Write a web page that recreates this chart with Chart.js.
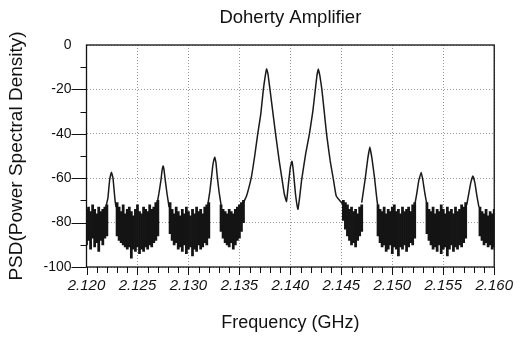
<!DOCTYPE html>
<html>
<head>
<meta charset="utf-8">
<script src="https://cdn.jsdelivr.net/npm/chart.js@4.4.0/dist/chart.umd.min.js"></script>
<style>
  body { margin: 0; background: #fff; }
  canvas { display: block; }
</style>
</head>
<body>
<canvas id="psd-chart" width="523" height="337"></canvas>
<script>
// axis ticks
const xTicks = [2.120, 2.125, 2.130, 2.135, 2.140, 2.145, 2.150, 2.155, 2.160];
const xTickLabels = ['2.120', '2.125', '2.130', '2.135', '2.140', '2.145', '2.150', '2.155', '2.160'];
const yTicks = [0, -20, -40, -60, -80, -100];

// tone / intermod peaks (GHz, dB), null breaks the trace
const peakFreq = [
  2.1219, 2.1221, 2.1222, 2.1223, 2.12245, 2.1226, 2.1227, 2.1228, 2.1229, 2.1230,
  2.1269, 2.1271, 2.1273, 2.1274, 2.12752, 2.1276, 2.1277, 2.1279, 2.1281, 2.1282,
  2.1319, 2.1321, 2.1323, 2.1324, 2.13258, 2.1327, 2.1328, 2.1330, 2.1332, 2.1333,
  2.1354, 2.1357, 2.1360, 2.1362, 2.1365, 2.1368, 2.1371, 2.13735, 2.1375, 2.13767,
  2.1378, 2.1380, 2.1383, 2.13855, 2.1389, 2.1392, 2.1394, 2.13962, 2.1398, 2.1400,
  2.14016, 2.1403, 2.1405, 2.14074, 2.1409, 2.1411, 2.1415, 2.14187, 2.1422, 2.14245,
  2.1426, 2.14274, 2.1429, 2.14309, 2.1433, 2.14355, 2.1439, 2.1442, 2.1445, 2.1452, 2.1453,
  2.1470, 2.14735, 2.1476, 2.1478, 2.1480, 2.14826, 2.1485, 2.1486, 2.1487,
  2.1522, 2.1524, 2.1526, 2.15284, 2.1530, 2.1532, 2.1534, 2.1535,
  2.1573, 2.1575, 2.1577, 2.1579, 2.1581, 2.1583, 2.1585
];
const peakPsd = [
  -73, -69, -64, -60, -57.3, -60, -65, -70, -73, null,
  -72, -67, -61, -57, -54.5, -56, -60, -67, -73, null,
  -72, -66, -58, -54, -50.6, -53, -58, -66, -72, null,
  -71, -68, -63, -59, -50, -40, -31, -20, -15, -10.8,
  -13, -20, -31, -40, -52, -61, -67, -70.5, -63, -55,
  -52.4, -57, -67, -74, -69, -61, -49, -40, -30, -20,
  -14, -10.8, -14, -20, -29, -40, -52, -60, -68, -72, null,
  -71, -60, -51, -46, -51, -60, -70, -73, null,
  -72, -67, -61, -57.4, -61, -67, -72, null,
  -72, -67, -62, -59, -62, -68, -73
];

// noise floor, min/max per 0.0002 GHz bin, one row per stretch between peaks
const noiseStart = [2.1200, 2.1230, 2.1282, 2.1332, 2.1452, 2.1486, 2.1534, 2.1586];
const noiseHigh = [
  [-74, -73, -75, -72, -74, -76, -73, -75, -74, -73, -72],
  [-71, -73, -75, -72, -76, -74, -73, -75, -77, -74, -72, -75, -76, -73, -74, -75, -72, -74, -73, -71, -70],
  [-71, -74, -76, -73, -75, -77, -74, -76, -73, -75, -77, -74, -76, -73, -75, -74, -76, -73, -72, -71],
  [-72, -74, -75, -76, -74, -75, -76, -74, -73, -72, -71, -70],
  [-70, -71, -72, -74, -73, -75, -74, -76, -73, -72],
  [-72, -74, -75, -73, -76, -74, -75, -73, -72, -75, -74, -76, -73, -75, -74, -73, -75, -72, -71],
  [-71, -74, -75, -73, -76, -74, -75, -72, -74, -76, -73, -75, -74, -76, -73, -75, -74, -72, -73, -71],
  [-73, -75, -76, -74, -77, -75, -76, -74]
];
const noiseLow = [
  [-90, -88, -92, -87, -91, -89, -93, -88, -90, -87, -86],
  [-86, -88, -89, -90, -91, -92, -91, -96, -92, -93, -91, -94, -92, -93, -91, -92, -90, -91, -89, -88, -86],
  [-85, -88, -90, -89, -92, -91, -93, -90, -94, -92, -91, -95, -92, -93, -90, -92, -91, -89, -90, -87],
  [-84, -87, -89, -90, -91, -89, -92, -90, -88, -87, -84, -80],
  [-79, -83, -86, -88, -90, -89, -91, -88, -86, -84],
  [-86, -89, -91, -90, -93, -92, -90, -94, -91, -92, -95, -91, -92, -90, -93, -91, -89, -90, -87],
  [-85, -88, -90, -92, -91, -93, -90, -94, -92, -91, -95, -92, -90, -93, -91, -92, -90, -91, -89, -87],
  [-86, -88, -90, -89, -91, -90, -92, -91]
];
const binWidth = 0.0002;

const noiseBars = [];
noiseStart.forEach((f0, s) => {
  noiseHigh[s].forEach((hi, i) => {
    noiseBars.push({ x: f0 + i * binWidth, y: [noiseLow[s][i], hi] });
  });
});
const peakPoints = peakFreq.map((f, i) => ({ x: f, y: peakPsd[i] }));

// minor ticks + frame, ticks point outward like the original plot
const tickMarks = {
  id: 'tickMarks',
  afterDraw(chart) {
    const { ctx, chartArea: a, scales: { x, y } } = chart;
    ctx.save();
    ctx.strokeStyle = '#111';
    ctx.lineWidth = 1;
    ctx.beginPath();
    for (let i = 0; i <= 40; i++) {
      const px = Math.round(x.getPixelForValue(2.12 + i * 0.001)) + 0.5;
      const len = i % 5 === 0 ? 8 : 6;
      ctx.moveTo(px, a.bottom);
      ctx.lineTo(px, a.bottom + len);
    }
    for (let v = -100; v < 0; v += 10) {
      const py = Math.round(y.getPixelForValue(v)) + 0.5;
      const len = v % 20 === 0 ? 15 : 6;
      ctx.moveTo(a.left - len, py);
      ctx.lineTo(a.left, py);
    }
    ctx.stroke();
    ctx.lineWidth = 1.3;
    ctx.strokeRect(a.left, a.top, a.right - a.left, a.bottom - a.top);
    ctx.restore();
  }
};

const font = "'Liberation Sans', Arial, sans-serif";

new Chart(document.getElementById('psd-chart'), {
  type: 'line',
  data: {
    datasets: [
      {
        type: 'bar',
        data: noiseBars,
        backgroundColor: '#141414',
        borderWidth: 0,
        barThickness: 2.1,
        grouped: false
      },
      {
        data: peakPoints,
        borderColor: '#1a1a1a',
        borderWidth: 1.5,
        pointRadius: 0,
        tension: 0.1,
        spanGaps: false
      }
    ]
  },
  options: {
    responsive: false,
    animation: false,
    layout: { padding: { left: 0, right: 22.5, top: 0, bottom: 0 } },
    plugins: {
      legend: { display: false },
      tooltip: { enabled: false },
      title: {
        display: true,
        text: 'Doherty Amplifier',
        fullSize: false,
        color: '#111',
        font: { family: font, size: 18.5, weight: 'normal' },
        padding: { top: 7, bottom: 15.8 }
      }
    },
    scales: {
      x: {
        type: 'linear',
        min: 2.12,
        max: 2.16,
        offset: false,
        afterBuildTicks: s => { s.ticks = xTicks.map(v => ({ value: v })); },
        afterFit: s => { s.height = 70; },
        grid: { color: '#999', drawTicks: false, offset: false },
        border: { display: false, dash: [1, 2] },
        ticks: {
          padding: 10,
          color: '#111',
          maxRotation: 0,
          font: { family: font, size: 15, style: 'italic' },
          callback: (v, i) => xTickLabels[i]
        },
        title: {
          display: true,
          text: 'Frequency (GHz)',
          color: '#111',
          font: { family: font, size: 18 },
          padding: { top: 0, bottom: 3 }
        }
      },
      y: {
        min: -100,
        max: 0,
        afterBuildTicks: s => { s.ticks = yTicks.map(v => ({ value: v })); },
        afterFit: s => { s.width = 86.5; },
        grid: { color: '#999', drawTicks: false },
        border: { display: false, dash: [1, 2] },
        ticks: {
          padding: 15,
          color: '#111',
          font: { family: font, size: 14 }
        },
        title: {
          display: true,
          text: 'PSD(Power Spectral Density)',
          color: '#111',
          font: { family: font, size: 19 },
          padding: { top: 5.5, bottom: 0 }
        }
      }
    }
  },
  plugins: [tickMarks]
});
</script>
</body>
</html>
